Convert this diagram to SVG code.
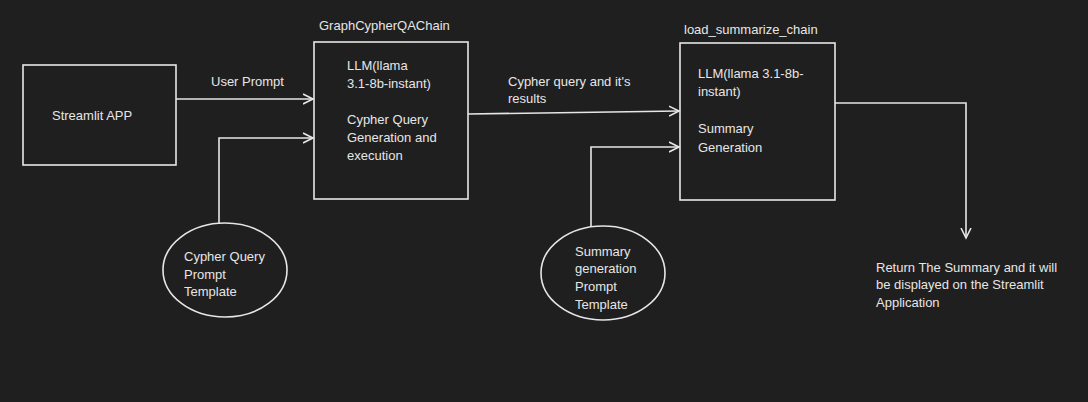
<svg xmlns="http://www.w3.org/2000/svg" width="1088" height="402" viewBox="0 0 1088 402">
<defs>
<style>
.bg{fill:#201f1f}
.box{fill:none;stroke:#e6e6e6;stroke-width:1.6}
.ln{fill:none;stroke:#e6e6e6;stroke-width:1.6}
text{font-family:"Liberation Sans",Arial,sans-serif;font-size:13px;fill:#e6e6e6}
</style>
<marker id="ah" markerWidth="12" markerHeight="12" refX="10" refY="5" orient="auto" markerUnits="userSpaceOnUse" viewBox="0 0 12 10">
<path d="M0,0 L10,5 L0,10" fill="none" stroke="#e6e6e6" stroke-width="1.6"/>
</marker>
</defs>
<rect class="bg" x="0" y="0" width="1088" height="402"/>
<g id="connectors">
<path class="ln" d="M176,99 L313,99" marker-end="url(#ah)"/>
<path class="ln" d="M219,223 L219,138 L313,138" marker-end="url(#ah)"/>
<path class="ln" d="M468,114 L679,111" marker-end="url(#ah)"/>
<path class="ln" d="M591,226 L591,147 L679,147" marker-end="url(#ah)"/>
<path class="ln" d="M835,103 L966,103 L966,238" marker-end="url(#ah)"/>
<text x="211" y="86">User Prompt</text>
<text x="508" y="86">Cypher query and it's</text>
<text x="508" y="103">results</text>
</g>
<g id="streamlit">
<rect class="box" x="23" y="65" width="153" height="100"/>
<text x="52" y="120">Streamlit APP</text>
</g>
<g id="graphcypher">
<text x="319" y="30">GraphCypherQAChain</text>
<rect class="box" x="314" y="42" width="154" height="157"/>
<text x="347" y="70">LLM(llama</text>
<text x="347" y="88">3.1-8b-instant)</text>
<text x="347" y="124">Cypher Query</text>
<text x="347" y="142">Generation and</text>
<text x="347" y="160">execution</text>
</g>
<g id="summarize">
<text x="684" y="34">load_summarize_chain</text>
<rect class="box" x="680" y="43" width="155" height="157"/>
<text x="698" y="78">LLM(llama 3.1-8b-</text>
<text x="698" y="96">instant)</text>
<text x="698" y="133">Summary</text>
<text x="698" y="152">Generation</text>
</g>
<g id="cypher-template">
<ellipse class="box" cx="225" cy="270" rx="62" ry="47"/>
<text x="184" y="261">Cypher Query</text>
<text x="184" y="279">Prompt</text>
<text x="184" y="296">Template</text>
</g>
<g id="summary-template">
<ellipse class="box" cx="603" cy="273" rx="62" ry="47"/>
<text x="575" y="256">Summary</text>
<text x="575" y="273">generation</text>
<text x="575" y="291">Prompt</text>
<text x="575" y="309">Template</text>
</g>
<g id="result">
<text x="876" y="272">Return The Summary and it will</text>
<text x="876" y="289">be displayed on the Streamlit</text>
<text x="876" y="307">Application</text>
</g>
</svg>
